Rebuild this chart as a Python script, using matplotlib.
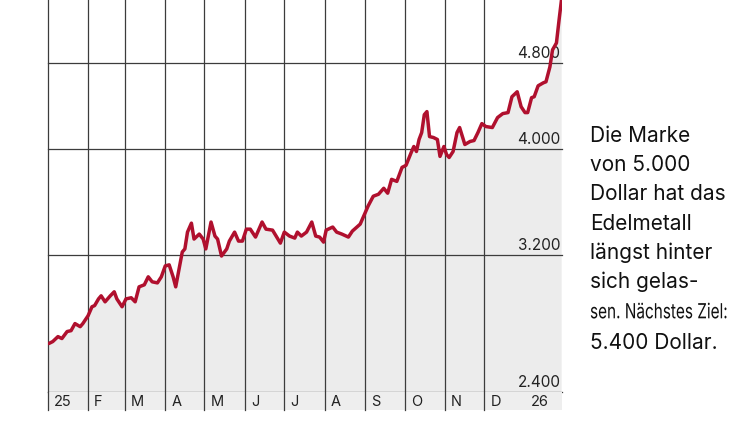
import matplotlib
matplotlib.use("Agg")
import matplotlib.pyplot as plt
import matplotlib.dates as mdates
import matplotlib.transforms as mtransforms
from matplotlib.patheffects import AbstractPathEffect
from matplotlib.transforms import Affine2D
import numpy as np

# ---------------- data ----------------
dates = [
    "2025-01-02", "2025-01-05", "2025-01-09", "2025-01-12", "2025-01-16", "2025-01-19",
    "2025-01-22", "2025-01-26", "2025-01-28", "2025-02-01", "2025-02-04", "2025-02-06",
    "2025-02-09", "2025-02-11", "2025-02-14", "2025-02-18", "2025-02-21", "2025-02-23",
    "2025-02-27", "2025-03-02", "2025-03-06", "2025-03-09", "2025-03-12", "2025-03-16",
    "2025-03-19", "2025-03-22", "2025-03-26", "2025-03-29", "2025-04-01", "2025-04-04",
    "2025-04-07", "2025-04-09", "2025-04-14", "2025-04-16", "2025-04-18", "2025-04-21",
    "2025-04-23", "2025-04-27", "2025-04-30", "2025-05-02", "2025-05-06", "2025-05-09",
    "2025-05-11", "2025-05-14", "2025-05-18", "2025-05-20", "2025-05-24", "2025-05-27",
    "2025-05-30", "2025-06-02", "2025-06-05", "2025-06-09", "2025-06-14", "2025-06-17",
    "2025-06-22", "2025-06-28", "2025-07-01", "2025-07-05", "2025-07-09", "2025-07-11",
    "2025-07-14", "2025-07-18", "2025-07-22", "2025-07-25", "2025-07-28", "2025-07-31",
    "2025-08-02", "2025-08-07", "2025-08-10", "2025-08-14", "2025-08-19", "2025-08-22",
    "2025-08-28", "2025-09-01", "2025-09-03", "2025-09-07", "2025-09-11", "2025-09-15",
    "2025-09-18", "2025-09-21", "2025-09-25", "2025-09-29", "2025-10-02", "2025-10-06",
    "2025-10-08", "2025-10-10", "2025-10-12", "2025-10-14", "2025-10-16", "2025-10-18",
    "2025-10-20", "2025-10-23", "2025-10-26", "2025-10-28", "2025-10-31", "2025-11-02",
    "2025-11-04", "2025-11-07", "2025-11-10", "2025-11-12", "2025-11-16", "2025-11-20",
    "2025-11-23", "2025-11-26", "2025-11-29", "2025-12-02", "2025-12-07", "2025-12-11",
    "2025-12-15", "2025-12-19", "2025-12-22", "2025-12-26", "2025-12-29", "2026-01-01",
    "2026-01-03", "2026-01-06", "2026-01-08", "2026-01-11", "2026-01-15", "2026-01-17",
    "2026-01-20", "2026-01-22", "2026-01-25", "2026-01-27", "2026-01-29",
]
gold_usd = [
    2658, 2669, 2697, 2686, 2726, 2731,
    2772, 2754, 2772, 2818, 2872, 2879,
    2920, 2939, 2902, 2939, 2964, 2920,
    2872, 2920, 2927, 2902, 2995, 3008,
    3059, 3027, 3020, 3059, 3130, 3137,
    3059, 2995, 3223, 3244, 3361, 3425,
    3312, 3347, 3312, 3244, 3433, 3333,
    3312, 3196, 3244, 3298, 3361, 3298,
    3298, 3382, 3382, 3326, 3433, 3382,
    3375, 3284, 3361, 3333, 3319, 3361,
    3333, 3361, 3433, 3333, 3326, 3291,
    3375, 3397, 3361, 3347, 3326, 3368,
    3418, 3505, 3550, 3625, 3640, 3686,
    3648, 3756, 3740, 3852, 3868, 3975,
    4025, 3983, 4085, 4145, 4304, 4332,
    4110, 4102, 4085, 3942, 4025, 3958,
    3933, 3983, 4145, 4189, 4042, 4068,
    4076, 4145, 4224, 4198, 4189, 4278,
    4314, 4323, 4470, 4517, 4377, 4323,
    4323, 4461, 4470, 4574, 4603, 4613,
    4760, 4933, 5006, 5253, 5500,
]
month_starts = ["2025-01-01", "2025-02-01", "2025-03-01", "2025-04-01", "2025-05-01",
                "2025-06-01", "2025-07-01", "2025-08-01", "2025-09-01", "2025-10-01",
                "2025-11-01", "2025-12-01", "2026-01-01"]
month_labels = ["25", "F", "M", "A", "M", "J", "J", "A", "S", "O", "N", "D", "26"]
y_ticks = [2400, 3200, 4000, 4800]
y_tick_labels = ["2.400", "3.200", "4.000", "4.800"]
note_lines = ["Die Marke", "von 5.000", "Dollar hat das", "Edelmetall",
              "längst hinter", "sich gelas-", "sen. Nächstes Ziel:", "5.400 Dollar."]

# ---------------- style ----------------
FONT = ["Inter", "DejaVu Sans"]
LINE_RED = "#b0102e"
FILL = "#ececec"
GRID = "#3c3c3c"
W, H = 750, 421

x = np.array(dates, dtype="datetime64[D]")
y = np.array(gold_usd, dtype=float)
ms = np.array(month_starts, dtype="datetime64[D]")

fig = plt.figure(figsize=(W / 100, H / 100), dpi=100)
fig.patch.set_facecolor("white")

left_px, right_px = 47.5, 562.0
top_px, base_px, strip_px = 0.0, 392.0, 410.0

ax = fig.add_axes([left_px / W, (H - base_px) / H, (right_px - left_px) / W, (base_px - top_px) / H])
sax = fig.add_axes([left_px / W, (H - strip_px) / H, (right_px - left_px) / W, (strip_px - base_px) / H])

xmin = np.datetime64("2025-01-01")
xmax = np.datetime64("2026-01-29T06:00")
for a in (ax, sax):
    a.set_xlim(xmin, xmax)
    for s in a.spines.values():
        s.set_visible(False)
    a.set_xticks([])
    a.set_yticks([])
    a.tick_params(left=False, bottom=False, labelleft=False, labelbottom=False)

ax.set_yscale("log")
ax.set_ylim(2400, 5480)
ax.yaxis.set_minor_locator(matplotlib.ticker.NullLocator())
ax.set_yticks([])
ax.set_facecolor("white")
sax.set_ylim(0, 1)
sax.set_facecolor("#eeeeee")

# fill under line
ax.fill_between(x, y, 1000, color=FILL, lw=0, zorder=1)

# grid lines
for v in y_ticks:
    ax.axhline(v, color=GRID, lw=0.9, zorder=2, clip_on=False)
for m in ms[:-1]:
    ax.axvline(m, color=GRID, lw=0.9, zorder=2, clip_on=False)
    sax.axvline(m, color=GRID, lw=0.9, zorder=2, clip_on=False)

# y labels (inside, right aligned above gridline)
ylab_tr = mtransforms.offset_copy(
    mtransforms.blended_transform_factory(ax.transAxes, ax.transData),
    fig=fig, x=-1.5, y=2.0, units="dots")
for v, lab in zip(y_ticks, y_tick_labels):
    ax.text(1.0, v, lab, transform=ylab_tr, ha="right", va="bottom",
            fontsize=11, family=FONT, color="#222222", zorder=3)

# price line
ax.plot(x, y, color=LINE_RED, lw=2.5, zorder=5, solid_joinstyle="round",
        solid_capstyle="round")

# month labels
mlab_tr = mtransforms.offset_copy(
    mtransforms.blended_transform_factory(sax.transData, sax.transAxes),
    fig=fig, x=6, y=0, units="dots")
for m, lab in zip(ms, month_labels):
    sax.text(mdates.date2num(m), 0.45, lab, transform=mlab_tr, ha="left", va="center",
             fontsize=10.5, family=FONT, color="#222222")


# right-hand note
class Squeeze(AbstractPathEffect):
    """Scale the glyph outlines about the text anchor (condensed line)."""

    def __init__(self, sx, sy, x0, y0):
        super().__init__()
        self.sx, self.sy, self.x0, self.y0 = sx, sy, x0, y0

    def draw_path(self, renderer, gc, tpath, affine, rgbFace=None):
        aff = affine + Affine2D().translate(-self.x0, -self.y0).scale(self.sx, self.sy) \
            .translate(self.x0, self.y0)
        renderer.draw_path(gc, tpath, aff, rgbFace)


NOTE_SIZE = 15
SQ_SIZE = 11
baselines = [141.7, 171.3, 200.5, 229.5, 259.0, 288.3, 318.3, 349.0]
texts = []
for i, (line, b) in enumerate(zip(note_lines, baselines)):
    t = fig.text(590 / W, (H - b) / H, line, ha="left", va="baseline",
                 fontsize=SQ_SIZE if i == 6 else NOTE_SIZE, family=FONT, color="#111111")
    texts.append(t)

fig.canvas.draw()
r = fig.canvas.get_renderer()
sq = texts[6]
bb = sq.get_window_extent(r)
x0, y0 = sq.get_transform().transform(sq.get_position())
sq.set_path_effects([Squeeze(137.0 / bb.width, NOTE_SIZE / SQ_SIZE, x0, y0)])

fig.savefig("out.png", dpi=100, facecolor="white")
